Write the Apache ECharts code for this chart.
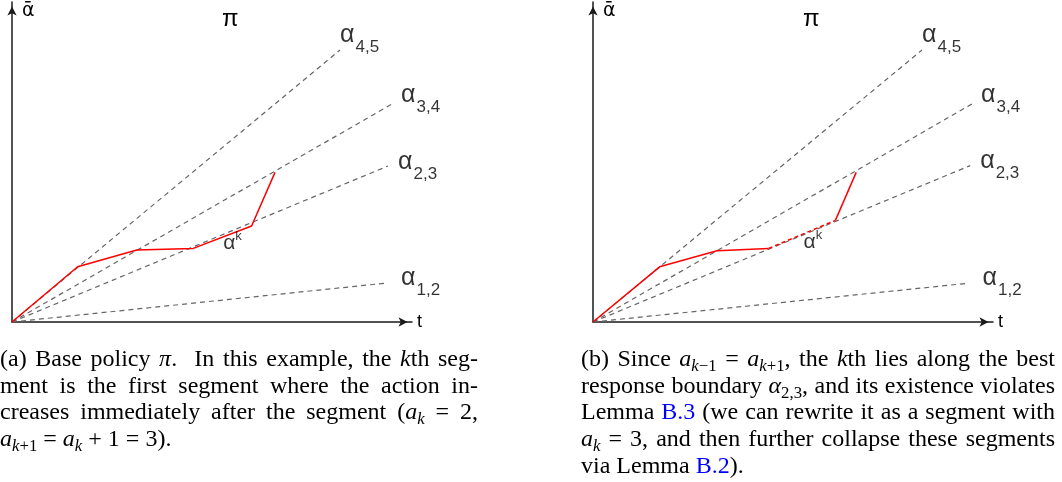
<!DOCTYPE html>
<html>
<head>
<meta charset="utf-8">
<script src="https://cdn.jsdelivr.net/npm/echarts@6/dist/echarts.min.js"></script>
<style>
html,body{margin:0;padding:0;background:#fff;}
#chart{position:absolute;left:0;top:0;width:1062px;height:482px;}
.cap{position:absolute;font-family:"Liberation Serif","Times New Roman",serif;font-size:24px;line-height:26.7px;color:#000;}
.cap .j{text-align:justify;text-align-last:justify;white-space:normal;}
.cap i{font-style:italic;}
.cap sub{font-size:0.7em;vertical-align:-0.3em;line-height:0;}
.lnk{color:#0000ff;}
</style>
</head>
<body>
<div id="chart"></div>

<div class="cap" style="left:0px;top:345px;width:478px;">
  <div class="j">(a) Base policy <i>π</i>. &nbsp;In this example, the <i>k</i>th seg-</div>
  <div class="j">ment is the first segment where the action in-</div>
  <div class="j">creases immediately after the segment (<i>a<sub>k</sub></i> = 2,</div>
  <div><i>a</i><sub><i>k</i>+1</sub> = <i>a<sub>k</sub></i> + 1 = 3).</div>
</div>

<div class="cap" style="left:581px;top:345px;width:474px;">
  <div class="j">(b) Since <i>a</i><sub><i>k</i>−1</sub> = <i>a</i><sub><i>k</i>+1</sub>, the <i>k</i>th lies along the best</div>
  <div class="j">response boundary <i>α</i><sub>2,3</sub>, and its existence violates</div>
  <div class="j">Lemma <span class="lnk">B.3</span> (we can rewrite it as a segment with</div>
  <div class="j"><i>a<sub>k</sub></i> = 3, and then further collapse these segments</div>
  <div>via Lemma <span class="lnk">B.2</span>).</div>
</div>

<script>
// ---- data (axis units: t in [0,100], alpha-bar in [0,80]) ----
const tMax = 100;
const aMax = 80;
const boundaryNames = ['4,5', '3,4', '2,3', '1,2'];
const boundaryEndA = [[82, 68], [95, 54.5], [94, 39], [93.75, 9.75]];
const boundaryEndB = [[82.25, 68], [94.75, 54.5], [94.3, 39.1], [93.9, 9.7]];
const policyA = [[0, 0], [16.4, 13.8], [31.2, 18], [45.3, 18.4], [59.9, 24], [65.75, 37.4]];
const policyB = [[0, 0], [16.65, 13.8], [31, 17.8], [43.9, 18.4]];
const policyBk = [[43.9, 18.4], [60.6, 25.4]];
const policyBAfter = [[60.6, 25.4], [65.8, 37.4]];
const kIndexA = 3; // start vertex of k-th segment in policyA

// ---- layout / style ----
const FONT = '"Liberation Sans", Arial, Helvetica, sans-serif';
const labelOffsets = [[0, -15], [9, -9], [10, -4], [14, -5]];
const gridLefts = [12, 593];

function axisLineCfg() {
  return {
    show: true, onZero: false,
    symbol: ['none', 'arrow'], symbolSize: [7, 9], symbolOffset: [0, -4.5],
    lineStyle: {color: '#1a1a1a', width: 1.5}
  };
}

const grids = [], xAxes = [], yAxes = [], series = [], titles = [];
gridLefts.forEach(function (left, gi) {
  grids.push({left: left, top: 2, width: 400, height: 320, containLabel: false});
  xAxes.push({
    type: 'value', gridIndex: gi, min: 0, max: tMax,
    axisLine: axisLineCfg(), axisTick: {show: false}, axisLabel: {show: false}, splitLine: {show: false},
    name: 't', nameLocation: 'end', nameGap: 5,
    nameTextStyle: {fontFamily: FONT, fontSize: 18, color: '#000', align: 'left', verticalAlign: 'middle'}
  });
  yAxes.push({
    type: 'value', gridIndex: gi, min: 0, max: aMax,
    axisLine: axisLineCfg(), axisTick: {show: false}, axisLabel: {show: false}, splitLine: {show: false},
    name: 'ᾱ', nameLocation: 'end', nameGap: -9,
    nameTextStyle: {fontFamily: '"DejaVu Sans", ' + FONT, fontSize: 19, color: '#000', align: 'left', verticalAlign: 'middle', padding: [0, 0, 0, 10]}
  });
  titles.push({
    text: 'π', left: left + 210, top: 7, padding: 0,
    textStyle: {fontFamily: FONT, fontSize: 24, fontWeight: 'normal', color: '#000'}
  });

  const ends = gi === 0 ? boundaryEndA : boundaryEndB;
  ends.forEach(function (end, i) {
    series.push({
      type: 'line', xAxisIndex: gi, yAxisIndex: gi, data: [[0, 0], end],
      symbol: 'none', silent: true, z: 2,
      lineStyle: {color: '#666', width: 1.2, type: [5, 4]}
    });
  });
  series.push({
    type: 'scatter', xAxisIndex: gi, yAxisIndex: gi, silent: true, z: 5,
    symbolSize: 0, itemStyle: {color: 'rgba(0,0,0,0)'},
    data: ends.map(function (e, i) {
      return {
        value: e,
        label: {
          show: true, position: 'right', distance: 0, offset: labelOffsets[i],
          formatter: '{a|α}{s|' + boundaryNames[i] + '}',
          rich: {
            a: {fontFamily: FONT, fontSize: 25, lineHeight: 30, color: '#000'},
            s: {fontFamily: FONT, fontSize: 17, lineHeight: 18, padding: [24, 0, 0, 1], color: '#000'}
          }
        }
      };
    })
  });

  const redStyle = {color: '#ff0000', width: 1.5};
  let kPoint, kOff;
  if (gi === 0) {
    series.push({type: 'line', xAxisIndex: gi, yAxisIndex: gi, data: policyA, symbol: 'none', silent: true, z: 4, lineStyle: redStyle});
    kPoint = policyA[kIndexA]; kOff = [30, -5];
  } else {
    series.push({type: 'line', xAxisIndex: gi, yAxisIndex: gi, data: policyB, symbol: 'none', silent: true, z: 4, lineStyle: redStyle});
    series.push({type: 'line', xAxisIndex: gi, yAxisIndex: gi, data: policyBk, symbol: 'none', silent: true, z: 4, lineStyle: {color: '#ff0000', width: 1.5, type: [4, 3]}});
    series.push({type: 'line', xAxisIndex: gi, yAxisIndex: gi, data: policyBAfter, symbol: 'none', silent: true, z: 4, lineStyle: redStyle});
    kPoint = policyBk[0]; kOff = [35, -6];
  }
  series.push({
    type: 'scatter', xAxisIndex: gi, yAxisIndex: gi, silent: true, z: 5,
    symbolSize: 0, itemStyle: {color: 'rgba(0,0,0,0)'},
    data: [{
      value: kPoint,
      label: {
        show: true, position: 'right', distance: 0, offset: kOff,
        formatter: '{a|α}{k|k}',
        rich: {
          a: {fontFamily: FONT, fontSize: 21, lineHeight: 26, color: '#000'},
          k: {fontFamily: FONT, fontSize: 13, lineHeight: 14, verticalAlign: 'top', color: '#000'}
        }
      }
    }]
  });
});

const chart = echarts.init(document.getElementById('chart'), null, {renderer: 'canvas'});
chart.setOption({
  animation: false,
  backgroundColor: '#fff',
  title: titles,
  grid: grids,
  xAxis: xAxes,
  yAxis: yAxes,
  series: series
});
</script>
</body>
</html>
